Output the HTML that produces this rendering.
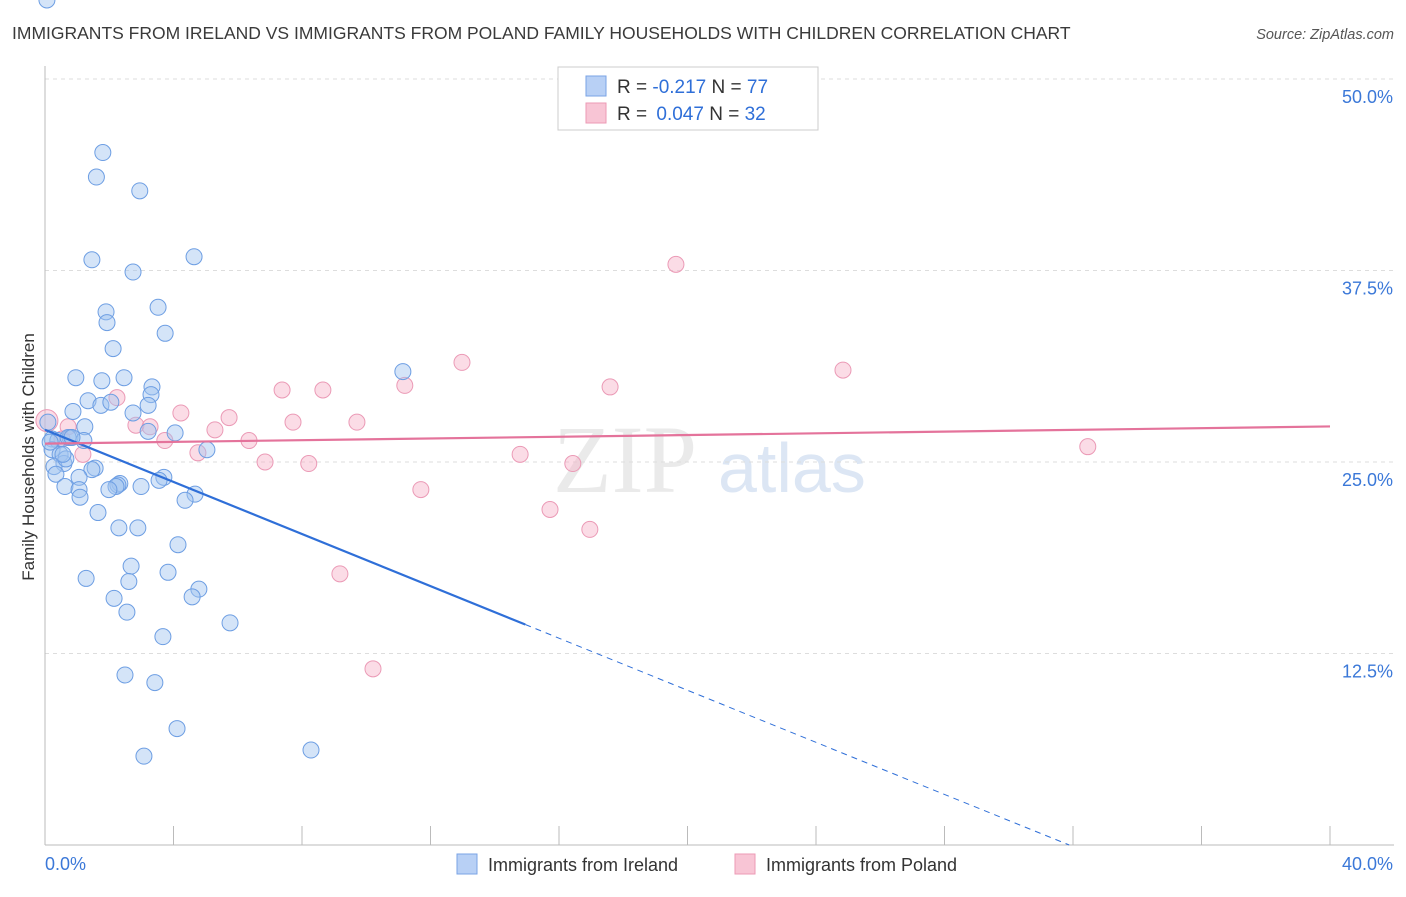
<!DOCTYPE html>
<html><head><meta charset="utf-8"><style>
body{margin:0;background:#fff;font-family:"Liberation Sans",sans-serif;}
</style></head><body>
<svg id="chart" width="1406" height="892" xmlns="http://www.w3.org/2000/svg" style="font-family:'Liberation Sans',sans-serif">
<text x="12" y="39" font-size="17.5" fill="#3a3a3a">IMMIGRANTS FROM IRELAND VS IMMIGRANTS FROM POLAND FAMILY HOUSEHOLDS WITH CHILDREN CORRELATION CHART</text>
<text x="1394" y="39" font-size="14.5" fill="#555" font-style="italic" text-anchor="end">Source: ZipAtlas.com</text>
<text transform="translate(34,457) rotate(-90)" font-size="17" fill="#333" text-anchor="middle">Family Households with Children</text>
<text x="553" y="492" font-size="96" fill="#ddd" font-family="Liberation Serif" opacity="0.6">ZIP</text>
<text x="718" y="492" font-size="70" fill="#c5d6ee" opacity="0.6">atlas</text>
<g id="grid"></g><g id="axes"></g><g id="pts"></g><g id="lines"></g>
<g>
<rect x="558" y="67" width="260" height="63" fill="#fff" stroke="#ccc"/>
<rect x="586" y="76" width="20" height="20" fill="#b8d0f5" stroke="#7aa3e5"/>
<rect x="586" y="103" width="20" height="20" fill="#f8c5d5" stroke="#ec9ab5"/>
<text x="617" y="93" font-size="19" fill="#333">R = <tspan fill="#2f6fd8">-0.217</tspan>   N = <tspan fill="#2f6fd8">77</tspan></text>
<text x="617" y="120" font-size="19" fill="#333">R = <tspan fill="#2f6fd8" dx="4">0.047</tspan>   N = <tspan fill="#2f6fd8">32</tspan></text>
</g>
<g>
<rect x="457" y="854" width="20" height="20" fill="#b8d0f5" stroke="#7aa3e5"/>
<text x="488" y="871" font-size="18" fill="#333">Immigrants from Ireland</text>
<rect x="735" y="854" width="20" height="20" fill="#f8c5d5" stroke="#ec9ab5"/>
<text x="766" y="871" font-size="18" fill="#333">Immigrants from Poland</text>
</g>
</svg>
<script>
const yTicks=[12.5,25.0,37.5,50.0];
const xLabels=["0.0%","40.0%"];
const irelandX=[1.8,1.6,2.95,1.46,2.74,4.64,1.9,3.52,1.93,3.74,2.12,11.14,0.96,1.77,2.46,3.33,1.34,3.3,1.74,2.05,3.21,0.87,2.74,1.24,4.05,0.22,0.4,0.78,0.72,1.21,3.21,5.04,0.22,0.47,0.59,1.56,0.28,1.46,0.34,1.06,3.7,3.55,0.62,1.06,2.33,2.27,2.21,1.99,2.99,1.09,4.67,4.36,1.65,2.3,2.89,4.14,2.68,3.83,2.61,1.28,4.79,4.58,2.15,2.55,5.76,3.67,2.49,3.42,4.11,3.08,8.28,0.09,0.16,0.65,0.84,0.56,0.06];
const irelandY=[45.2,43.6,42.7,38.2,37.4,38.4,34.8,35.1,34.1,33.4,32.4,30.9,30.5,30.3,30.5,29.9,29.0,29.4,28.7,28.9,28.7,28.3,28.2,27.3,26.9,26.5,26.4,26.6,26.6,26.4,27.0,25.8,25.8,25.5,24.9,24.6,24.7,24.5,24.2,24.0,24.0,23.8,23.4,23.2,23.6,23.5,23.4,23.2,23.4,22.7,22.9,22.5,21.7,20.7,20.7,19.6,18.2,17.8,17.2,17.4,16.7,16.2,16.1,15.2,14.5,13.6,11.1,10.6,7.6,5.8,6.2,27.6,26.3,25.2,26.6,25.5];
const polandX=[0.06,0.72,2.24,2.83,3.27,3.73,4.23,5.29,5.73,4.76,6.35,6.85,7.38,7.72,8.21,8.65,9.71,11.2,11.7,12.98,14.79,15.72,16.43,16.96,17.59,19.64,24.84,32.46,9.18,10.21,1.18,0.53];
const polandY=[27.7,27.3,29.2,27.4,27.3,26.4,28.2,27.1,27.9,25.6,26.4,25.0,29.7,27.6,24.9,29.7,27.6,30.0,23.2,31.5,25.5,21.9,24.9,20.6,29.9,37.9,31.0,26.0,17.7,11.5,25.5,26.5];
const regIreland=[27.1,-0.85]; // intercept, slope per %
const regPoland=[26.2,0.028];
const NS="http://www.w3.org/2000/svg";
const X0=45,X1=1330,Y0=845,Y50=79;
const xs=v=>X0+(v/40)*(X1-X0);
const ys=v=>Y0-(v/50)*(Y0-Y50);
function mk(t,a,p){const e=document.createElementNS(NS,t);for(const k in a)e.setAttribute(k,a[k]);p.appendChild(e);return e;}
const grid=document.getElementById('grid'),axes=document.getElementById('axes'),pts=document.getElementById('pts'),lines=document.getElementById('lines');
yTicks.forEach(v=>{
 const l=mk('line',{x1:X0,x2:1394,y1:ys(v),y2:ys(v),stroke:'#ddd','stroke-dasharray':'4,4'},grid);
 
 
 const t=mk('text',{x:1393,y:ys(v)+24,'font-size':18,fill:'#3b78d8','text-anchor':'end'},axes);
 t.textContent=v.toFixed(1)+'%';
 
 
});
const ya=mk('line',{x1:X0,x2:X0,y1:66,y2:Y0,stroke:'#bbb'},axes);


const xa=mk('line',{x1:X0,x2:1394,y1:Y0,y2:Y0,stroke:'#bbb'},axes);


for(let i=0;i<=10;i++){const tk=mk('line',{x1:xs(i*4),x2:xs(i*4),y1:826,y2:Y0,stroke:'#bbb'},axes);
 
 }
const xl0=mk('text',{x:45,y:870,'font-size':18,fill:'#3b78d8'},axes);xl0.textContent=xLabels[0];


const xl1=mk('text',{x:1393,y:870,'font-size':18,fill:'#3b78d8','text-anchor':'end'},axes);xl1.textContent=xLabels[1];


polandX.forEach((x,i)=>{const c=mk('circle',{cx:xs(x),cy:ys(polandY[i]),r:i==0?11:8,fill:'rgba(246,178,200,0.45)',stroke:'#eb9ab6','stroke-width':1},pts);
 
 });
irelandX.forEach((x,i)=>{const c=mk('circle',{cx:xs(x),cy:ys(irelandY[i]),r:8,fill:'rgba(160,195,240,0.45)',stroke:'#6d9ee3','stroke-width':1},pts);
 
 });
const f=(r,x)=>r[0]+r[1]*x;
const xEnd=14.95, xZero=-regIreland[0]/regIreland[1];
const l1=mk('line',{x1:xs(0),y1:ys(f(regIreland,0)),x2:xs(xEnd),y2:ys(f(regIreland,xEnd)),stroke:'#2f6fd8','stroke-width':2.2},lines);


const l2=mk('line',{x1:xs(xEnd),y1:ys(f(regIreland,xEnd)),x2:xs(xZero),y2:ys(0),stroke:'#2f6fd8','stroke-width':1,'stroke-dasharray':'6,5'},lines);


const l3=mk('line',{x1:xs(0),y1:ys(f(regPoland,0)),x2:xs(40),y2:ys(f(regPoland,40)),stroke:'#e4739b','stroke-width':2.2},lines);


</script>
</body></html>
